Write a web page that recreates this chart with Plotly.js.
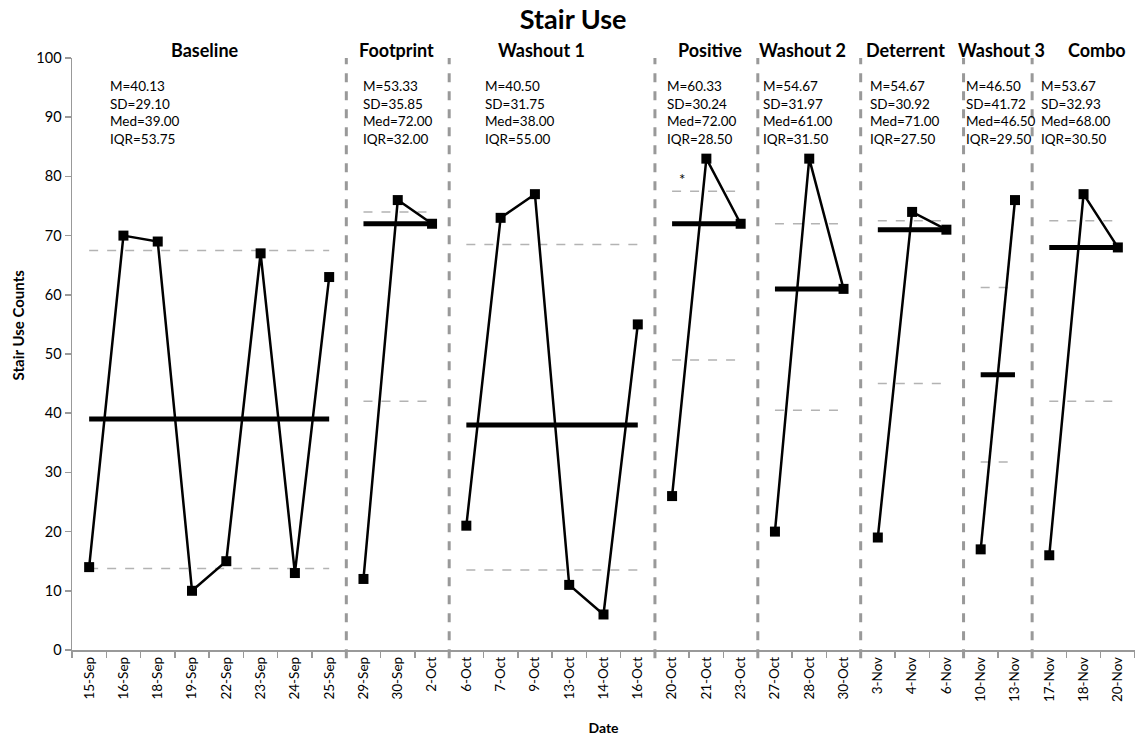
<!DOCTYPE html>
<html>
<head>
<meta charset="utf-8">
<script src="https://cdn.plot.ly/plotly-3.0.1.min.js"></script>
<style>html,body{margin:0;padding:0;background:#fff}#chart{width:1135px;height:740px}</style>
</head>
<body>
<div id="chart"></div>
<script>
// ---- data ----
const dates = ["15-Sep","16-Sep","18-Sep","19-Sep","22-Sep","23-Sep","24-Sep","25-Sep",
  "29-Sep","30-Sep","2-Oct",
  "6-Oct","7-Oct","9-Oct","13-Oct","14-Oct","16-Oct",
  "20-Oct","21-Oct","23-Oct",
  "27-Oct","28-Oct","30-Oct",
  "3-Nov","4-Nov","6-Nov",
  "10-Nov","13-Nov",
  "17-Nov","18-Nov","20-Nov"];
const phaseNames = ["Baseline","Footprint","Washout 1","Positive","Washout 2","Deterrent","Washout 3","Combo"];
const phaseLengths = [8,3,6,3,3,3,2,3];
const counts = [14,70,69,10,15,67,13,63,
  12,76,72,
  21,73,77,11,6,55,
  26,83,72,
  20,83,61,
  19,74,71,
  17,76,
  16,77,68];
const medians = [39,72,38,72,61,71,46.5,68];
const q1 = [13.75,42,13.5,49,40.5,45,31.75,42];
const q3 = [67.5,74,68.5,77.5,72,72.5,61.25,72.5];
const statM = ["40.13","53.33","40.50","60.33","54.67","54.67","46.50","53.67"];
const statSD = ["29.10","35.85","31.75","30.24","31.97","30.92","41.72","32.93"];
const statMed = ["39.00","72.00","38.00","72.00","61.00","71.00","46.50","68.00"];
const statIQR = ["53.75","32.00","55.00","28.50","31.50","27.50","29.50","30.50"];
// label positions (category index units)
const labelX = [3.37,8.95,13.2,18.1,20.8,23.8,26.6,29.4];
const statX = [0.55,7.92,11.5,16.8,19.6,22.7,25.5,27.7];

const FONT = "Lato, 'Open Sans', sans-serif";
const traces = [];
const shapes = [];
const annotations = [];
let start = 0;
phaseLengths.forEach((len, p) => {
  const xs = dates.slice(start, start + len);
  const ys = counts.slice(start, start + len);
  const xEnds = [xs[0], xs[xs.length - 1]];
  // quartile dashed lines
  [q1[p], q3[p]].forEach(v => traces.push({
    x: xEnds, y: [v, v], mode: "lines", type: "scatter", hoverinfo: "skip",
    line: {color: "#b3b3b3", width: 1.5, dash: "dash"}, showlegend: false
  }));
  // median line
  traces.push({
    x: xEnds, y: [medians[p], medians[p]], mode: "lines", type: "scatter",
    line: {color: "#000", width: 5}, showlegend: false
  });
  // data series
  traces.push({
    x: xs, y: ys, mode: "lines+markers", type: "scatter",
    line: {color: "#000", width: 2.5},
    marker: {symbol: "square", size: 10, color: "#000"}, showlegend: false
  });
  // phase label
  annotations.push({
    x: labelX[p], y: 1, xref: "x", yref: "paper", yshift: 8, yanchor: "middle",
    text: phaseNames[p], showarrow: false,
    font: {family: FONT, size: 18, color: "#000", weight: "bold"}
  });
  // stats
  annotations.push({
    x: statX[p], y: 97, xref: "x", yref: "y", xanchor: "left", yanchor: "top", align: "left",
    text: "M=" + statM[p] + "<br>SD=" + statSD[p] + "<br>Med=" + statMed[p] + "<br>IQR=" + statIQR[p],
    showarrow: false, font: {family: FONT, size: 13.5, color: "#000"}
  });
  start += len;
  if (p < phaseLengths.length - 1) {
    shapes.push({
      type: "line", xref: "x", yref: "paper", x0: start - 0.5, x1: start - 0.5, y0: -0.014, y1: 1,
      line: {color: "#999", width: 3, dash: "dash"}
    });
  }
});
annotations.push({
  x: 17.3, y: 79.5, xref: "x", yref: "y", text: "*", showarrow: false,
  font: {family: FONT, size: 15, color: "#000"}
});
annotations.push({
  x: -0.0508, y: 0.55, xref: "paper", yref: "paper", xanchor: "center", yanchor: "middle",
  text: "Stair Use Counts", textangle: -90, showarrow: false,
  font: {family: FONT, size: 15, color: "#000", weight: "bold"}
});

const layout = {
  width: 1135, height: 740,
  margin: {l: 72, r: 0, t: 58, b: 90},
  paper_bgcolor: "#fff", plot_bgcolor: "#fff",
  font: {family: FONT, color: "#000"},
  title: {
    text: "Stair Use", xref: "container", x: 0.505, yref: "container", y: 0.973, yanchor: "middle",
    font: {family: FONT, size: 27, color: "#000", weight: "bold"}
  },
  xaxis: {
    type: "category", categoryorder: "array", categoryarray: dates,
    range: [-0.5, dates.length - 0.5], tickangle: -90, tickson: "boundaries",
    ticks: "outside", ticklen: 6, tickcolor: "#999", tickwidth: 1.5,
    showline: true, linecolor: "#999", linewidth: 1.5, showgrid: false, zeroline: false,
    tickfont: {family: FONT, size: 13.5, color: "#000"},
    title: {text: "Date", standoff: 22, font: {family: FONT, size: 14, color: "#000", weight: "bold"}}
  },
  yaxis: {
    range: [0, 100], dtick: 10, ticks: "outside", ticklen: 6, tickcolor: "#999", tickwidth: 1.5,
    showline: true, linecolor: "#999", linewidth: 1.5, showgrid: false, zeroline: false,
    tickfont: {family: FONT, size: 14.5, color: "#000"}
  },
  shapes: shapes,
  annotations: annotations,
  showlegend: false
};
Plotly.newPlot("chart", traces, layout, {displayModeBar: false, staticPlot: true});
</script>
</body>
</html>
